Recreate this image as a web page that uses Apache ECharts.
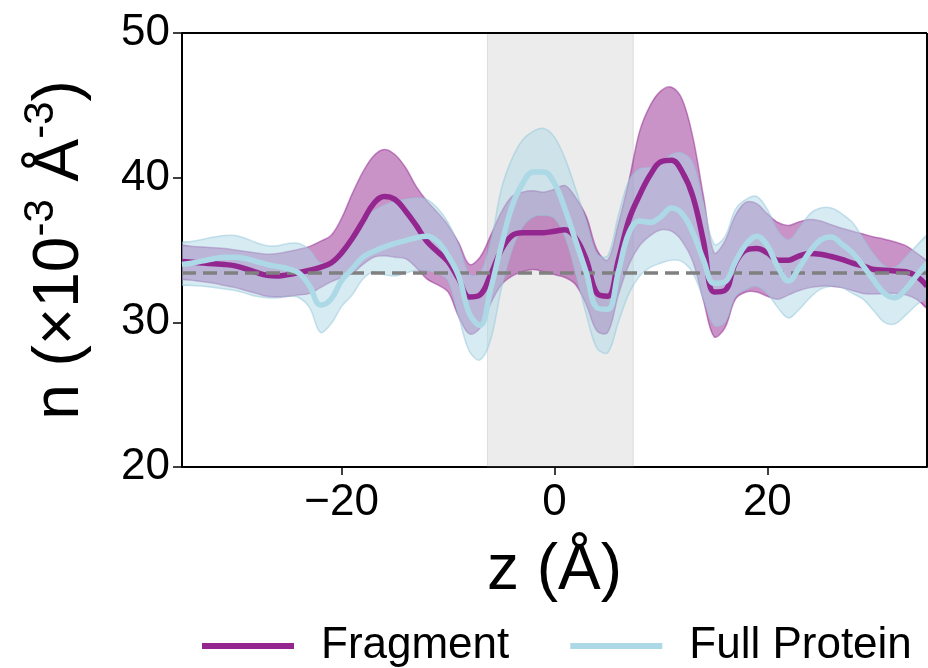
<!DOCTYPE html>
<html>
<head>
<meta charset="utf-8">
<script src="https://cdn.jsdelivr.net/npm/echarts@6/dist/echarts.min.js"></script>
<style>
  html, body { margin: 0; padding: 0; background: #fff; }
  #chart { width: 928px; height: 668px; }
</style>
</head>
<body>
<div id="chart"></div>
<script>
// z positions (Å)
const zVals = [
  -35, -34, -33, -32, -31, -30, -29, -28, -27, -26,
  -25, -24, -23, -22, -21, -20, -19, -18, -17, -16,
  -15, -14, -13, -12, -11, -10, -9, -8, -7, -6,
  -5, -4, -3, -2, -1, 0, 1, 2, 3, 4,
  5, 6, 7, 8, 9, 10, 11, 12, 13, 14,
  15, 16, 17, 18, 19, 20, 21, 22, 23, 24,
  25, 26, 27, 28, 29, 30, 31, 32, 33, 34, 35
]

// Fragment: mean and band
const fragMean = [
  34.2, 34.15, 34.1, 34.05, 34.0, 33.9, 33.7, 33.45, 33.25, 33.2,
  33.3, 33.45, 33.6, 33.8, 34.1, 34.8, 35.8, 37.0, 38.2, 38.7,
  38.5, 37.7, 36.7, 35.6, 34.9, 34.2, 33.0, 31.75, 31.9, 33.3,
  35.0, 36.0, 36.2, 36.2, 36.2, 36.3, 36.4, 35.8, 34.3, 32.0,
  31.8, 34.3, 37.1, 38.8, 40.2, 41.1, 41.2, 40.4, 38.7, 35.6,
  32.1, 32.2, 34.1, 35.0, 35.1, 34.8, 34.3, 34.3, 34.6, 34.75,
  34.7, 34.55, 34.35, 34.1, 33.9, 33.65, 33.6, 33.55, 33.5, 33.2, 32.5
]
const fragHi = [
  35.3, 35.25, 35.2, 35.15, 35.1, 35.0, 34.9, 34.8, 34.7, 34.75,
  34.9, 35.05, 35.25, 35.6, 36.0, 37.2, 38.9, 40.4, 41.5, 41.95,
  41.6, 40.7, 39.4, 38.4, 37.6, 36.7, 35.5, 34.0, 34.5, 36.0,
  37.6, 38.7, 39.0, 39.1, 39.0, 39.2, 39.45, 38.6, 37.3, 35.0,
  34.3, 36.8, 39.8, 43.2, 45.0, 46.0, 46.25, 45.4, 42.8, 38.7,
  34.8, 35.6, 37.4, 38.3, 38.2, 37.5, 36.9, 36.7, 36.95, 37.1,
  37.0, 36.75, 36.5, 36.3, 36.1, 35.9, 35.75, 35.55, 35.3, 34.8, 34.2
]
const fragLo = [
  33.0, 32.9, 32.8, 32.7, 32.55, 32.4, 32.2, 32.0, 31.8, 31.75,
  31.8, 31.9, 32.0, 32.4, 32.8, 33.1, 33.4, 34.0, 34.5, 34.6,
  34.5, 34.4, 33.8, 33.0, 32.6, 32.1, 30.4, 29.2, 29.6, 31.3,
  32.6, 33.2, 33.5, 33.65, 33.5, 33.3, 33.1, 32.6, 31.2, 29.4,
  29.3, 31.9, 34.0, 35.3, 36.0, 36.4, 36.3, 35.6, 34.2, 31.5,
  29.0, 29.6, 31.6, 32.1, 32.1, 31.8, 31.6, 31.9, 32.2, 32.4,
  32.5, 32.5, 32.4, 32.2, 32.0, 31.95, 32.0, 32.0, 31.9, 31.6, 31.0
]

// Full Protein: mean and band
const fullMean = [
  34.0, 34.1, 34.25, 34.4, 34.5, 34.5, 34.4, 34.2, 34.0, 33.85,
  33.7, 33.4, 32.5, 31.2, 31.6, 32.9, 33.7, 34.5, 34.9, 35.2,
  35.45, 35.65, 35.85, 35.95, 35.6, 34.6, 33.2, 30.6, 29.8, 32.3,
  35.3, 38.0, 39.6, 40.4, 40.4, 39.6, 37.8, 35.6, 33.4, 31.0,
  30.9, 33.5, 36.2, 37.0, 36.9, 37.3, 37.9, 37.5, 36.2, 34.3,
  32.7, 32.8, 34.2, 35.4, 35.95, 35.3, 33.8, 32.85, 33.8, 34.9,
  35.7, 35.9, 35.4, 34.8, 33.9, 32.9, 32.0, 31.7, 32.3, 33.2, 34.1
]
const fullHi = [
  35.5, 35.6, 35.75, 35.9, 36.0, 36.0, 35.8, 35.5, 35.3, 35.3,
  35.45, 35.45, 35.0, 34.1, 34.2, 34.8, 36.0, 37.1, 37.7, 38.1,
  38.35, 38.5, 38.6, 38.5, 37.9, 36.9, 35.3, 33.3, 33.4, 35.5,
  39.2, 41.3, 42.6, 43.2, 43.4, 42.8, 41.3, 39.2, 36.9, 34.7,
  34.6, 37.4, 39.8, 40.6, 40.7, 41.0, 41.6, 41.7, 41.0, 38.2,
  35.4, 35.9, 37.8, 38.5, 38.7, 37.8, 36.3, 35.7, 36.5, 37.5,
  37.9, 37.9, 37.5, 36.9, 35.8, 34.7, 33.9, 33.8, 34.5, 35.3, 36.0
]
const fullLo = [
  32.6, 32.55, 32.5, 32.4, 32.3, 32.2, 32.0, 31.8, 31.7, 31.7,
  31.8, 31.7, 31.0, 29.3, 29.9, 31.1, 31.9, 33.0, 33.5, 33.3,
  33.2, 33.4, 33.6, 33.6, 33.4, 32.9, 30.4, 28.0, 27.4, 28.8,
  32.3, 35.0, 36.6, 37.3, 37.4, 37.2, 35.9, 33.4, 30.5, 28.2,
  27.9, 30.0, 32.0, 33.2, 33.8, 34.1, 34.3, 34.2, 33.4, 31.6,
  29.8, 30.0, 31.8, 32.3, 32.5, 32.0, 31.0, 30.3, 30.9, 31.7,
  32.3, 32.5, 32.4, 32.0, 31.6, 30.8, 30.0, 29.9, 30.5, 31.2, 31.8
]

const refDensity = 33.4          // dashed bulk line
const shadedRange = [-6.3, 7.4]  // grey region
const xTicks = [-20, 0, 20]

const FONT = 'Liberation Sans, Arial, sans-serif'
const PURPLE = '#93278F'
const BLUE = '#ADD8E6'

const toPts = (ys) => zVals.map((z, i) => [z, ys[i]])

// fill_between as one smoothed polygon
const band = (name, lo, hi, fill, edge, z) => ({
  type: 'custom',
  name: name,
  silent: true,
  z: z,
  data: zVals.map((v, i) => [v, lo[i], hi[i]]),
  encode: { x: 0, y: [1, 2] },
  renderItem: (params, api) => {
    if (params.dataIndex !== 0) return
    const up = zVals.map((v, i) => api.coord([v, hi[i]]))
    const dn = zVals.map((v, i) => api.coord([v, lo[i]]))
    const cs = params.coordSys
    return {
      type: 'group',
      clipPath: { type: 'rect', shape: { x: cs.x, y: cs.y, width: cs.width, height: cs.height } },
      children: [
        { type: 'polygon', shape: { points: up.concat(dn.slice().reverse()), smooth: 0.35 }, style: { fill: fill, stroke: null } },
        { type: 'polyline', shape: { points: up, smooth: 0.35 }, style: { fill: null, stroke: edge, lineWidth: 1.5 } },
        { type: 'polyline', shape: { points: dn, smooth: 0.35 }, style: { fill: null, stroke: edge, lineWidth: 1.5 } }
      ]
    }
  }
})

const chart = echarts.init(document.getElementById('chart'), null, { renderer: 'canvas' })

chart.setOption({
  animation: false,
  backgroundColor: '#fff',
  grid: { left: 182, right: 1, top: 33, bottom: 201, show: false },
  legend: {
    data: ['Fragment', 'Full Protein'],
    left: 197,
    top: 619,
    icon: 'rect',
    itemWidth: 92,
    itemHeight: 6,
    itemGap: 61,
    textStyle: { fontFamily: FONT, fontSize: 44, color: '#000', padding: [0, 0, 0, 22] }
  },
  xAxis: {
    type: 'value',
    min: -35,
    max: 35,
    name: 'z (Å)',
    nameLocation: 'middle',
    nameGap: 72,
    nameTextStyle: { fontFamily: FONT, fontSize: 64, color: '#000' },
    axisLine: { show: true, onZero: false, lineStyle: { color: '#000', width: 2 } },
    axisTick: { show: true, length: 8, customValues: xTicks, lineStyle: { color: '#000', width: 1.5 } },
    axisLabel: { fontFamily: FONT, fontSize: 44, color: '#000', margin: 14, customValues: xTicks,
      formatter: (v) => (v < 0 ? '\u2212' + Math.abs(v) : String(v)) },
    splitLine: { show: false }
  },
  yAxis: {
    type: 'value',
    min: 20,
    max: 50,
    interval: 10,
    name: '{m|n (×10}{s|-3}{m| Å}{s|-3}{m|)}',
    nameLocation: 'middle',
    nameRotate: 90,
    nameGap: 90,
    nameTextStyle: {
      fontFamily: FONT, color: '#000', fontSize: 64,
      rich: {
        m: { fontFamily: FONT, fontSize: 64, color: '#000', lineHeight: 72, verticalAlign: 'bottom' },
        s: { fontFamily: FONT, fontSize: 42, color: '#000', lineHeight: 42, verticalAlign: 'top' }
      }
    },
    axisLine: { show: true, onZero: false, lineStyle: { color: '#000', width: 2 } },
    axisTick: { show: true, length: 9, lineStyle: { color: '#000', width: 1.5 } },
    axisLabel: { fontFamily: FONT, fontSize: 44, color: '#000', margin: 12 },
    splitLine: { show: false }
  },
  series: [
    {
      // shaded region
      type: 'line',
      data: [],
      silent: true,
      z: 1,
      markArea: {
        silent: true,
        itemStyle: { color: 'rgba(128,128,128,0.15)', borderColor: 'rgba(128,128,128,0.2)', borderWidth: 1 },
        data: [[{ xAxis: shadedRange[0] }, { xAxis: shadedRange[1] }]]
      }
    },
    band('Fragment band', fragLo, fragHi, 'rgba(148,40,146,0.5)', 'rgba(148,40,146,0.5)', 2),
    band('Full Protein band', fullLo, fullHi, 'rgba(173,216,230,0.5)', 'rgba(150,200,220,0.5)', 3),
    {
      name: 'Fragment',
      type: 'line',
      data: toPts(fragMean),
      smooth: 0.4,
      showSymbol: false,
      z: 4,
      color: PURPLE,
      lineStyle: { color: PURPLE, width: 5.5 }
    },
    {
      name: 'Full Protein',
      type: 'line',
      data: toPts(fullMean),
      smooth: 0.4,
      showSymbol: false,
      z: 5,
      color: BLUE,
      lineStyle: { color: BLUE, width: 5.5 }
    },
    {
      type: 'line',
      data: [],
      silent: true,
      z: 6,
      markLine: {
        silent: true,
        symbol: 'none',
        label: { show: false },
        lineStyle: { color: '#808080', width: 3.5, type: [14, 7] },
        data: [{ yAxis: refDensity }]
      }
    }
  ]
})

// top and right spines of the box
const tl = chart.convertToPixel({ gridIndex: 0 }, [-35, 50])
const br = chart.convertToPixel({ gridIndex: 0 }, [35, 20])
chart.setOption({
  graphic: [
    { type: 'line', z: 20, shape: { x1: tl[0], y1: tl[1], x2: br[0], y2: tl[1] }, style: { stroke: '#000', lineWidth: 2 } },
    { type: 'line', z: 20, shape: { x1: br[0], y1: tl[1], x2: br[0], y2: br[1] }, style: { stroke: '#000', lineWidth: 2 } }
  ]
})
</script>
</body>
</html>
